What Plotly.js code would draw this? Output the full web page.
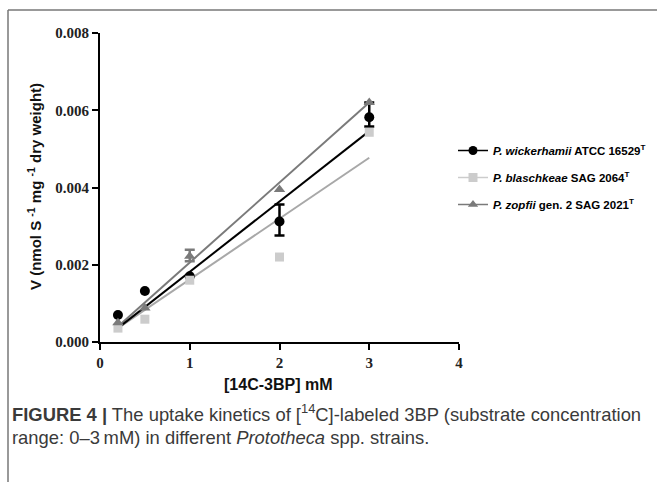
<!DOCTYPE html>
<html>
<head>
<meta charset="utf-8">
<script src="https://cdn.plot.ly/plotly-3.0.1.min.js"></script>
<style>
html,body{margin:0;padding:0;background:#fff;}
#chart{width:657px;height:482px;}
</style>
</head>
<body>
<div id="chart"></div>
<script>
// ---- data ----
const concentrations = [0.2, 0.5, 1, 2, 3];
const wickerhamii = [0.00070, 0.00132, 0.00170, 0.00312, 0.00582];
const wickerhamiiErrPlus = [NaN, NaN, NaN, 0.00044, 0.00038];
const wickerhamiiErrMinus = [NaN, NaN, NaN, 0.00036, 0.00024];
const blaschkeae = [0.00036, 0.00059, 0.00160, 0.00220, 0.00543];
const zopfii = [0.00050, 0.00088, 0.00222, 0.00395, 0.00620];
const zopfiiErrPlus = [NaN, NaN, 0.00017, NaN, NaN];
const zopfiiErrMinus = [NaN, NaN, 0.00013, NaN, NaN];

// linear fit lines (end points)
const fitX = [0.2, 3];
const fitWickerhamii = [0.00036, 0.00546];
const fitBlaschkeae = [0.00036, 0.00477];
const fitZopfii = [0.00040, 0.00620];

const legendNames = [
  '<i>P. wickerhamii</i> ATCC 16529<sup>T</sup>',
  '<i>P. blaschkeae</i> SAG 2064<sup>T</sup>',
  '<i>P. zopfii</i> gen. 2 SAG 2021<sup>T</sup>'
];
const xTicks = [0, 1, 2, 3, 4];
const yTicks = [0, 0.002, 0.004, 0.006, 0.008];

// ---- styles ----
const cBlack = '#000000', cLight = '#cccccc', cDark = '#7a7a7a', cLightLine = '#a8a8a8';

const traces = [
  {x: fitX, y: fitBlaschkeae, mode: 'lines', line: {color: cLightLine, width: 2}, showlegend: false, hoverinfo: 'skip'},
  {x: fitX, y: fitZopfii, mode: 'lines', line: {color: cDark, width: 2}, showlegend: false, hoverinfo: 'skip'},
  {x: fitX, y: fitWickerhamii, mode: 'lines', line: {color: cBlack, width: 2}, showlegend: false, hoverinfo: 'skip'},
  {x: concentrations, y: wickerhamii, mode: 'markers', showlegend: false,
   marker: {symbol: 'circle', size: 10, color: cBlack},
   error_y: {type: 'data', symmetric: false, array: wickerhamiiErrPlus, arrayminus: wickerhamiiErrMinus,
             color: cBlack, thickness: 2.5, width: 5}},
  {x: concentrations, y: blaschkeae, mode: 'markers', showlegend: false,
   marker: {symbol: 'square', size: 9, color: cLight}},
  {x: concentrations, y: zopfii, mode: 'markers', showlegend: false,
   marker: {symbol: 'triangle-up', size: 10, color: cDark},
   error_y: {type: 'data', symmetric: false, array: zopfiiErrPlus, arrayminus: zopfiiErrMinus,
             color: cDark, thickness: 2.5, width: 5}},
  // legend entries
  {x: [null], y: [null], name: legendNames[0], mode: 'lines+markers', line: {color: cBlack, width: 1.5},
   marker: {symbol: 'circle', size: 9, color: cBlack}, legendgroup: 'a'},
  {x: [null], y: [null], name: legendNames[1], mode: 'lines+markers', line: {color: cLight, width: 1.5},
   marker: {symbol: 'square', size: 9, color: cLight}, legendgroup: 'b'},
  {x: [null], y: [null], name: legendNames[2], mode: 'lines+markers', line: {color: cDark, width: 1.5},
   marker: {symbol: 'triangle-up', size: 9, color: cDark}, legendgroup: 'c'}
];

const L = 100, T = 33, W = 359, H = 309;
const px = v => (v - L) / W;
const py = v => (T + H - v) / H;

const capFont = {family: 'Liberation Sans, Arial, sans-serif', size: 18.4, color: '#3a3a3a'};

const layout = {
  width: 657, height: 482,
  margin: {l: L, r: 657 - L - W, t: T, b: 482 - T - H, pad: 0, autoexpand: false},
  paper_bgcolor: '#ffffff', plot_bgcolor: '#ffffff',
  showlegend: true,
  legend: {x: px(453), y: py(136), xanchor: 'left', yanchor: 'top',
           font: {family: 'Liberation Sans, Arial, sans-serif', size: 11.5, weight: 'bold', color: '#000'},
           tracegroupgap: 8, itemwidth: 30, bgcolor: 'rgba(0,0,0,0)'},
  xaxis: {range: [0, 4], tickvals: xTicks, ticktext: xTicks.map(String),
          showline: true, linewidth: 2, linecolor: '#000', ticks: 'outside', ticklen: 6, tickwidth: 2, tickcolor: '#000',
          showgrid: false, zeroline: false, fixedrange: true, automargin: false,
          tickfont: {family: 'Liberation Serif, Times New Roman, serif', size: 15, weight: 'bold', color: '#222'}},
  yaxis: {range: [0, 0.008], tickvals: yTicks, ticktext: yTicks.map(v => v.toFixed(3)),
          showline: true, linewidth: 2, linecolor: '#000', ticks: 'outside', ticklen: 6, tickwidth: 2, tickcolor: '#000',
          showgrid: false, zeroline: false, fixedrange: true, automargin: false,
          tickfont: {family: 'Liberation Serif, Times New Roman, serif', size: 15, weight: 'bold', color: '#222'}},
  annotations: [
    {xref: 'paper', yref: 'paper', x: px(278), y: py(384), xanchor: 'center', yanchor: 'middle', showarrow: false,
     text: '[14C-3BP] mM', font: {family: 'Liberation Sans, Arial, sans-serif', size: 16, weight: 'bold', color: '#111'}},
    {xref: 'paper', yref: 'paper', x: px(34), y: py(187), xanchor: 'center', yanchor: 'middle', showarrow: false,
     textangle: -90, text: 'V (nmol S <sup>-1</sup> mg <sup>-1</sup> dry weight)',
     font: {family: 'Liberation Sans, Arial, sans-serif', size: 15, weight: 'bold', color: '#111'}},
    {xref: 'paper', yref: 'paper', x: px(10), y: py(413), xanchor: 'left', yanchor: 'middle', showarrow: false, align: 'left',
     text: '<b>FIGURE 4 |</b> The uptake kinetics of [<sup>14</sup>C]-labeled 3BP (substrate concentration', font: capFont},
    {xref: 'paper', yref: 'paper', x: px(10), y: py(437), xanchor: 'left', yanchor: 'middle', showarrow: false, align: 'left',
     text: 'range: 0–3\u2009mM) in different <i>Prototheca</i> spp. strains.', font: capFont}
  ],
  shapes: [
    {type: 'line', xref: 'paper', yref: 'paper', x0: px(8), x1: px(657), y0: py(10), y1: py(10), line: {color: '#777', width: 1.5}},
    {type: 'line', xref: 'paper', yref: 'paper', x0: px(8), x1: px(8), y0: py(10), y1: py(482), line: {color: '#777', width: 1.5}}
  ]
};

Plotly.newPlot('chart', traces, layout, {displayModeBar: false, staticPlot: true});
</script>
</body>
</html>
